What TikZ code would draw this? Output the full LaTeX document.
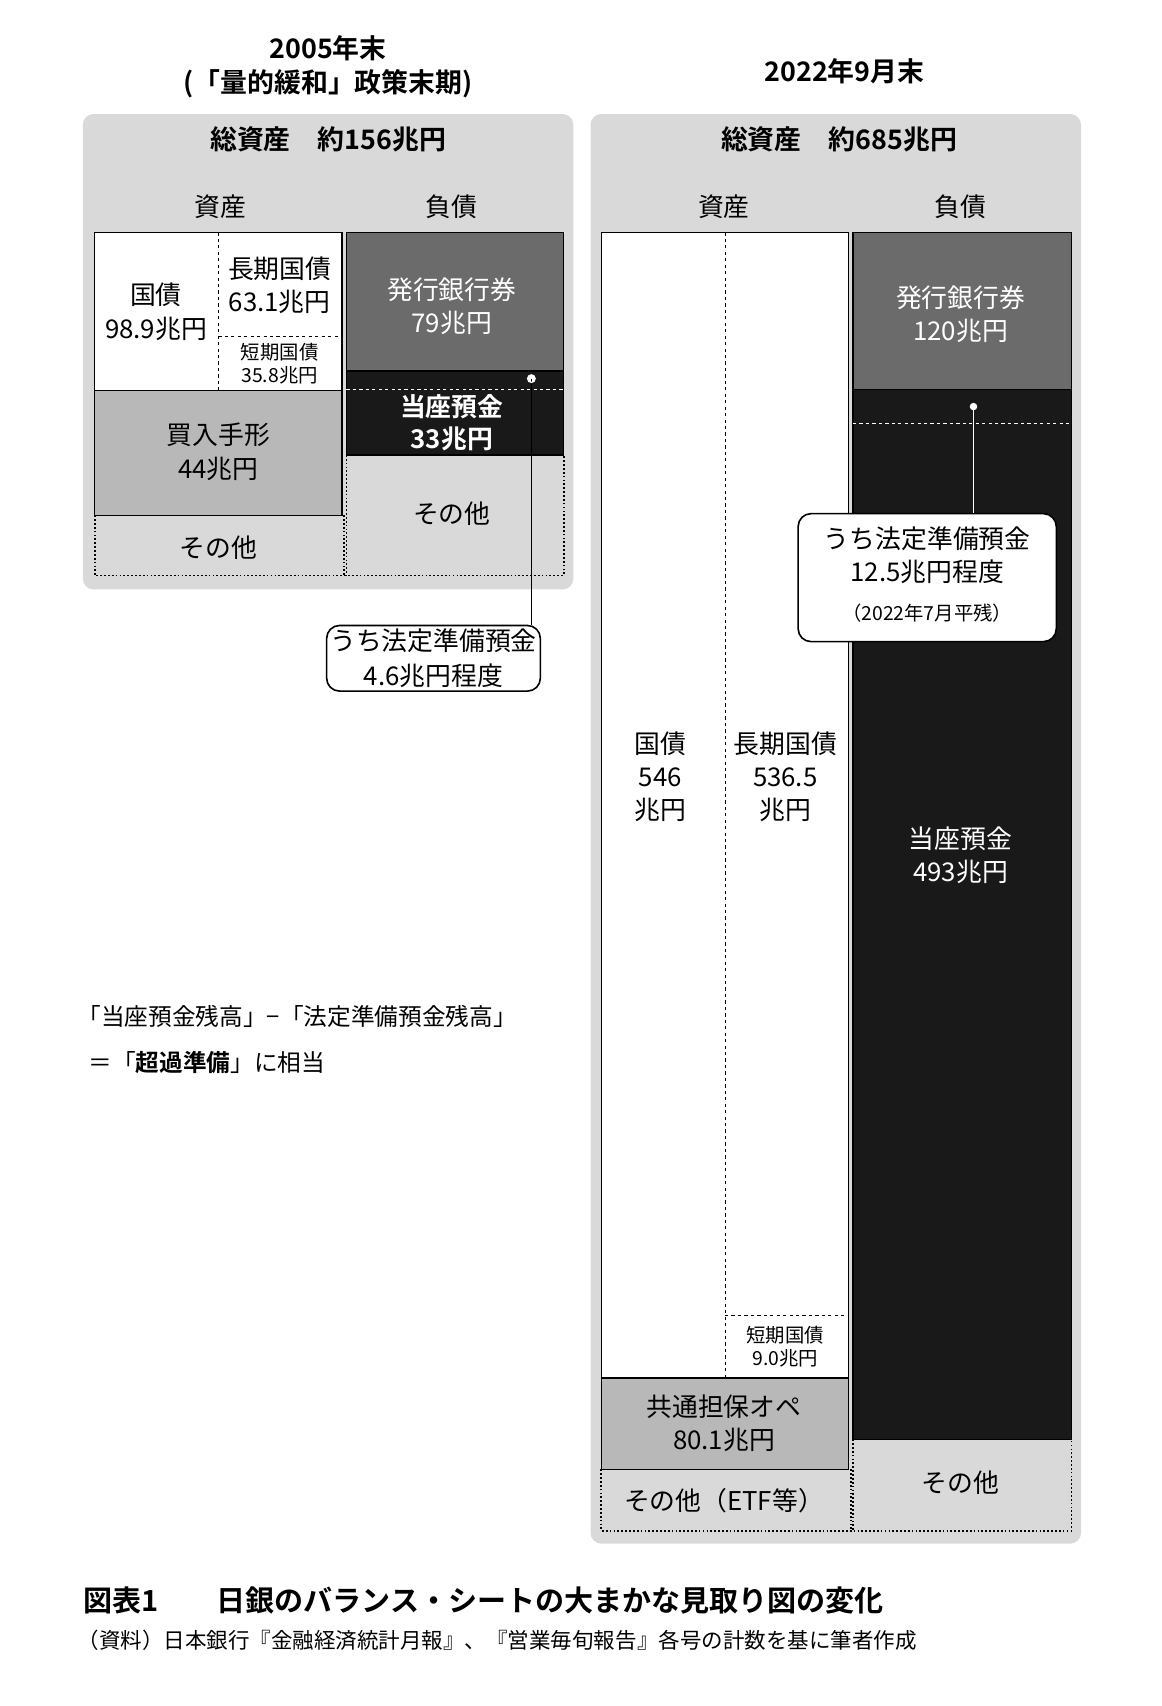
\documentclass[tikz,border=0pt]{standalone}
\usepackage{fontspec}
\setmainfont{Noto Sans CJK JP}[BoldFont={* Bold}]
\begin{document}
\begin{tikzpicture}[x=1pt,y=-1pt,
  panel/.style={fill=black!15,rounded corners=10pt},
  lab/.style={align=center,font=\fontsize{24}{31}\selectfont,inner sep=0pt},
  small/.style={align=center,font=\fontsize{18}{22}\selectfont,inner sep=0pt},
  head/.style={font=\bfseries\fontsize{25}{32}\selectfont,align=center,inner sep=0pt},
  wbox/.style={draw,line width=1.2pt,fill=white},
  gbox/.style={draw,line width=1.2pt,fill=black!28},
  dgbox/.style={draw,line width=1.2pt,fill=black!58},
  bbox/.style={draw,line width=1.2pt,fill=black!90},
  dotb/.style={dotted,line width=1.6pt},
  dsh/.style={dashed,line width=0.8pt},
  wdsh/.style={dashed,line width=1pt,white},
  call/.style={draw,line width=1.5pt,fill=white,rounded corners=12pt,align=center,font=\fontsize{24}{36}\selectfont}]
\useasboundingbox (0,0) rectangle (1080,1586);
% headers
\node[head] (t1) at (305,62) {2005年末\\(「量的緩和」政策末期)};
\node[head] (t2) at (785,66) {2022年9月末};
\fill[panel] (77,106) rectangle (533,548);
\fill[panel] (549,106) rectangle (1005,1435);
\node[head] (s1) at (305,130) {総資産　約156兆円};
\node[head] (s2) at (780,130) {総資産　約685兆円};
\node[lab] (a1) at (205,192) {資産};
\node[lab] (l1) at (420,192) {負債};
\node[lab] (a2) at (673,192) {資産};
\node[lab] (l2) at (893,192) {負債};
% left assets
\draw[wbox] (88,216) rectangle (318,363);
\draw[dsh] (203,216) -- (203,363);
\draw[dsh] (203,313) -- (318,313);
\node[lab] (kk1) at (145,290) {国債\\98.9兆円};
\node[lab] (ck1) at (260,265) {長期国債\\63.1兆円};
\node[small] (tk1) at (260,338) {短期国債\\35.8兆円};
\draw[gbox] (88,363) rectangle (318,479);
\node[lab] (kt1) at (203,420) {買入手形\\44兆円};
\draw[dotb] (88,479) -- (88,535) -- (524,535) -- (524,423);
\draw[dotb] (320,479) -- (320,535);
\node[lab] (o1) at (203,509) {その他};
% left liabilities
\draw[dgbox] (322,216) rectangle (524,345);
\node[lab,text=white] (hb1) at (420,285) {発行銀行券\\79兆円};
\draw[bbox] (322,345) rectangle (524,423);
\draw[wdsh] (322,362) -- (524,362);
\node[lab,text=white,font=\bfseries\fontsize{24}{29}\selectfont] (tz1) at (420,393) {当座預金\\33兆円};
\draw[dotb] (322,423) -- (322,535);
\node[lab] (o2) at (420,478) {その他};
\node[call] (cb1) at (403,612) {うち法定準備預金\\[-4pt]4.6兆円程度};
\coordinate (d1) at (494,352);
\fill[white] (d1) circle (3.5pt);
\draw[line width=1.3pt] (d1) -- (cb1.north -| d1);
\draw[white,line width=1.2pt] (d1) circle (3.5pt);
% right assets
\draw[wbox] (559,216) rectangle (789,1281);
\draw[dsh] (674,216) -- (674,1281);
\draw[dsh] (674,1223) -- (789,1223);
\node[lab] (kk2) at (614,722) {国債\\546\\兆円};
\node[lab] (ck2) at (730,722) {長期国債\\536.5\\兆円};
\node[small] (tk2) at (730,1252) {短期国債\\9.0兆円};
\draw[gbox] (559,1281) rectangle (789,1366);
\node[lab] (kt2) at (673,1323) {共通担保オペ\\80.1兆円};
\draw[dotb] (559,1366) -- (559,1423) -- (996,1423) -- (996,1338);
\draw[dotb] (791,1366) -- (791,1423);
\node[lab] (o3) at (673,1395) {その他（ETF等）};
% right liabilities
\draw[dgbox] (793,216) rectangle (996,362);
\node[lab,text=white] (hb2) at (893,292) {発行銀行券\\120兆円};
\draw[bbox] (793,362) rectangle (996,1338);
\draw[wdsh] (793,394) -- (996,394);
\node[lab,text=white] (tz2) at (893,795) {当座預金\\493兆円};
\draw[dotb] (793,1338) -- (793,1423);
\node[lab] (o4) at (893,1378) {その他};
\node[call,minimum width=240pt,minimum height=119pt] (cb2) at (862,537) {};
\node[lab] (cb2t) at (862,516) {うち法定準備預金\\12.5兆円程度};
\node[small] (cb2s) at (862,570) {（2022年7月平残）};
\coordinate (d2) at (905,378);
\fill[white] (d2) circle (3.5pt);
\draw[white,line width=1.3pt] (d2) -- (cb2.north -| d2);
% note
\node[anchor=west,font=\fontsize{22}{28}\selectfont,inner sep=0pt] (n1) at (72,945) {「当座預金残高」−「法定準備預金残高」};
\node[anchor=west,font=\fontsize{22}{28}\selectfont,inner sep=0pt] (n2) at (82,988) {＝「\textbf{超過準備}」に相当};
% caption
\node[anchor=west,font=\bfseries\fontsize{27}{32}\selectfont,inner sep=0pt] (c1) at (77,1488) {図表1　　日銀のバランス・シートの大まかな見取り図の変化};
\node[anchor=west,font=\fontsize{20}{24}\selectfont,inner sep=0pt] (c2) at (72,1525) {（資料）日本銀行『金融経済統計月報』、『営業毎旬報告』各号の計数を基に筆者作成};
\end{tikzpicture}
\end{document}
